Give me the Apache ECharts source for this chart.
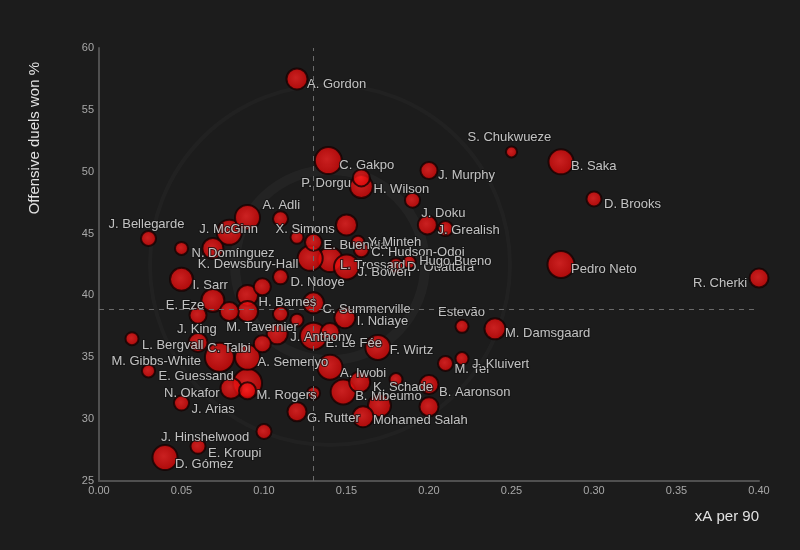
<!DOCTYPE html>
<html>
<head>
<meta charset="utf-8">
<title>xA per 90 vs offensive duels won %</title>
<script src="https://cdn.jsdelivr.net/npm/echarts@6.0.0/dist/echarts.min.js"></script>
<style>
  html, body { margin: 0; padding: 0; background: #1c1c1c; }
  #chart { width: 800px; height: 550px; }
</style>
</head>
<body>
<div id="chart"></div>
<script>
// players ('' = unlabelled bubble)
const players = [
  'A. Gordon', 'C. Gakpo', 'P. Dorgu', 'H. Wilson', 'J. Murphy', 'S. Chukwueze', 'B. Saka', 'D. Brooks',
  'J. Doku', 'J. Grealish', 'Pedro Neto', 'R. Cherki', 'Estevão', 'M. Damsgaard', 'J. Kluivert', 'M. Tel',
  'B. Aaronson', 'Mohamed Salah', 'K. Schade', 'B. Mbeumo', 'A. Iwobi', 'F. Wirtz', 'J. Anthony', 'E. Le Fée',
  'I. Ndiaye', 'C. Summerville', 'Hugo Bueno', 'C. Hudson-Odoi', 'Y. Minteh', 'E. Buendía', 'L. Trossard', 'J. Bowen',
  'D. Ouattara', 'X. Simons', 'A. Adli', 'J. McGinn', 'J. Bellegarde', 'N. Domínguez', 'K. Dewsbury-Hall', 'I. Sarr',
  'D. Ndoye', 'E. Eze', 'H. Barnes', 'J. King', 'M. Tavernier', 'L. Bergvall', 'C. Talbi', 'M. Gibbs-White',
  'A. Semenyo', 'E. Guessand', 'N. Okafor', 'M. Rogers', 'J. Arias', 'G. Rutter', 'J. Hinshelwood', 'E. Kroupi',
  'D. Gómez',
  '', '', '', '', '', '', '', '', '', '', '', '', '', '', ''
]
const xaPer90 = [
  0.120, 0.139, 0.159, 0.190, 0.200, 0.250, 0.280, 0.300,
  0.199, 0.210, 0.280, 0.400, 0.220, 0.240, 0.220, 0.210,
  0.200, 0.200, 0.180, 0.148, 0.140, 0.169, 0.108, 0.130,
  0.149, 0.130, 0.188, 0.159, 0.157, 0.130, 0.140, 0.150,
  0.180, 0.150, 0.110, 0.079, 0.030, 0.050, 0.069, 0.050,
  0.110, 0.069, 0.090, 0.060, 0.079, 0.020, 0.099, 0.073,
  0.090, 0.030, 0.080, 0.090, 0.050, 0.120, 0.100, 0.060,
  0.040,
  0.159, 0.090, 0.120, 0.128, 0.099, 0.090, 0.110, 0.120, 0.140, 0.060, 0.090, 0.130, 0.158, 0.170, 0.160
]
const duelsWon = [
  57.5, 50.9, 49.5, 47.7, 50.1, 51.6, 50.8, 47.8,
  45.7, 45.4, 42.5, 41.4, 37.5, 37.3, 34.9, 34.5,
  32.8, 31.0, 33.2, 32.2, 34.2, 35.8, 36.9, 36.7,
  38.2, 39.4, 42.7, 43.7, 44.3, 44.3, 42.9, 42.3,
  42.4, 45.7, 46.2, 45.1, 44.6, 43.8, 43.8, 41.3,
  41.5, 39.6, 40.0, 38.4, 38.7, 36.5, 36.1, 35.0,
  35.0, 33.9, 32.5, 32.3, 31.3, 30.6, 29.0, 27.8,
  26.9,
  48.8, 46.3, 44.7, 43.0, 40.7, 38.7, 38.5, 38.0, 37.0, 36.2, 32.9, 32.1, 33.0, 31.1, 30.2
]
// bubble size variable (estimated)
const minutes = [
  900, 1170, 720, 630, 720, 450, 1080, 630,
  810, 630, 1170, 810, 540, 900, 540, 630,
  810, 810, 540, 1080, 1080, 1080, 900, 1170,
  900, 900, 540, 630, 540, 720, 1080, 1080,
  630, 900, 630, 1080, 630, 540, 900, 990,
  630, 990, 900, 720, 810, 540, 720, 1260,
  1080, 540, 900, 720, 630, 810, 630, 630,
  1080,
  990, 1080, 540, 1080, 720, 900, 630, 540, 810, 810, 1260, 540, 900, 990, 900
]
const xTicks = [0, 0.05, 0.1, 0.15, 0.2, 0.25, 0.3, 0.35, 0.4]
const yTicks = [25, 30, 35, 40, 45, 50, 55, 60]
const avgXa = 0.13
const avgDuels = 38.9

// label placement: [dx, dy] of text start from bubble centre, px
const labelOffsets = [
  [10, 5], [11, 5], [-60, 6], [-39, -11], [9, 5], [-44, -14], [10, 5], [10, 5],
  [-6, -11], [-8, 2], [10, 5], [-66, 5], [-24, -14], [10, 5], [10, 6], [9, 6],
  [10, 8], [-56, 14], [-23, 8], [12, 4], [10, 6], [12, 3], [13, 4], [12, 7],
  [12, 4], [9, 7], [10, -1], [10, 3], [10, 0], [10, 3], [10, 6], [11, 5],
  [11, 2], [-71, 5], [-18, -13], [-30, -3], [-40, -14], [10, 5], [-15, 16], [11, 6],
  [10, 6], [-47, 5], [11, 7], [-21, 14], [-3, 16], [10, 7], [-55, 5], [-108, 4],
  [10, 5], [10, 6], [-67, 5], [9, 5], [10, 6], [10, 7], [-103, 6], [10, 7],
  [10, 7]
]

const chart = echarts.init(document.getElementById('chart'))

// big bubbles first so the small ones sit on top
const order = players.map((p, i) => i).sort((a, b) => minutes[b] - minutes[a])
const points = order.map(i => ({
  name: players[i],
  value: [xaPer90[i], duelsWon[i], minutes[i]],
  label: players[i]
    ? { show: true, offset: labelOffsets[i] }
    : { show: false }
}))

const font = 'Liberation Sans, Arial, sans-serif'

chart.setOption({
  backgroundColor: '#1c1c1c',
  animation: false,
  textStyle: { fontFamily: font },
  graphic: [
    // faint watermark rings
    {
      type: 'circle', silent: true, z: 0,
      shape: { cx: 330, cy: 265, r: 95 },
      style: { fill: 'none', stroke: 'rgba(255,255,255,0.03)', lineWidth: 10 }
    },
    {
      type: 'circle', silent: true, z: 0,
      shape: { cx: 330, cy: 265, r: 180 },
      style: { fill: 'none', stroke: 'rgba(255,255,255,0.022)', lineWidth: 4 }
    }
  ],
  grid: { left: 99, right: 41, top: 48, bottom: 69 },
  xAxis: {
    type: 'value',
    min: xTicks[0],
    max: xTicks[xTicks.length - 1],
    interval: 0.05,
    name: 'xA per 90',
    nameLocation: 'end',
    nameGap: 0,
    nameTextStyle: {
      color: '#e2e2e2', fontSize: 15, fontFamily: font,
      align: 'right', verticalAlign: 'top', padding: [28, 0, 0, 0]
    },
    axisLine: { lineStyle: { color: '#505050', width: 2 } },
    axisTick: { show: false },
    splitLine: { show: false },
    axisLabel: {
      color: '#a8a8a8', fontSize: 11, margin: 4,
      formatter: v => v.toFixed(2)
    }
  },
  yAxis: {
    type: 'value',
    min: yTicks[0],
    max: yTicks[yTicks.length - 1],
    interval: 5,
    name: 'Offensive duels won %',
    nameLocation: 'end',
    nameRotate: 90,
    nameGap: -14,
    nameTextStyle: {
      color: '#e2e2e2', fontSize: 15, fontFamily: font,
      align: 'right', verticalAlign: 'bottom', padding: [0, 0, 57, 0]
    },
    axisLine: { show: true, lineStyle: { color: '#505050', width: 2 } },
    axisTick: { show: false },
    splitLine: { show: false },
    axisLabel: { color: '#a8a8a8', fontSize: 11, margin: 5 }
  },
  series: [
    {
      type: 'scatter',
      z: 3,
      data: points,
      symbolSize: v => v[2] / 45 + 1,
      itemStyle: {
        color: new echarts.graphic.RadialGradient(0.45, 0.45, 0.6, [
          { offset: 0, color: 'rgba(255,34,34,0.96)' },
          { offset: 1, color: 'rgba(212,0,0,0.96)' }
        ]),
        borderColor: '#140202',
        borderWidth: 2
      },
      label: {
        position: 'inside',
        align: 'left',
        verticalAlign: 'middle',
        formatter: p => p.name,
        color: '#ececec',
        fontSize: 13,
        fontFamily: font,
        textBorderColor: '#141414',
        textBorderWidth: 2
      },
      emphasis: { disabled: true },
      markLine: {
        silent: true,
        symbol: 'none',
        label: { show: false },
        lineStyle: { color: '#6a6a6a', type: [5, 5], width: 1 },
        data: [{ xAxis: avgXa }, { yAxis: avgDuels }]
      }
    }
  ]
})
</script>
</body>
</html>
